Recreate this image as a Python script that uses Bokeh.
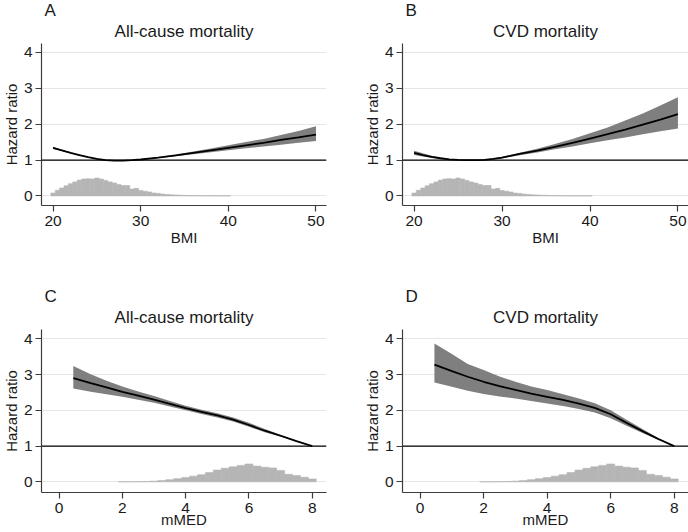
from bokeh.plotting import figure
from bokeh.layouts import column, row
from bokeh.models import Span, Title, FixedTicker, Range1d
from bokeh.embed import file_html
from bokeh.resources import INLINE

# ---------------- data ----------------
bmi_x = [20, 21, 22, 23, 24, 25, 26, 27, 28, 29, 30, 32, 34, 36, 38, 40, 42, 44, 46, 48, 50]
allcause_bmi_hr = [1.34, 1.27, 1.20, 1.14, 1.08, 1.03, 1.00, 0.985, 0.985, 0.995, 1.015, 1.07, 1.13, 1.20, 1.27, 1.34, 1.41, 1.48, 1.56, 1.63, 1.71]
allcause_bmi_lo = [1.31, 1.25, 1.19, 1.13, 1.073, 1.025, 0.996, 0.98, 0.98, 0.989, 1.007, 1.055, 1.105, 1.165, 1.22, 1.275, 1.33, 1.38, 1.43, 1.48, 1.53]
allcause_bmi_hi = [1.37, 1.29, 1.215, 1.15, 1.087, 1.035, 1.004, 0.99, 0.99, 1.001, 1.023, 1.085, 1.155, 1.24, 1.32, 1.41, 1.50, 1.59, 1.70, 1.81, 1.94]

cvd_bmi_hr = [1.20, 1.14, 1.09, 1.05, 1.02, 1.003, 0.995, 0.995, 1.005, 1.03, 1.07, 1.17, 1.26, 1.37, 1.48, 1.60, 1.72, 1.85, 1.99, 2.13, 2.28]
cvd_bmi_lo = [1.14, 1.10, 1.06, 1.03, 1.01, 0.998, 0.992, 0.99, 0.995, 1.015, 1.05, 1.135, 1.21, 1.30, 1.38, 1.47, 1.55, 1.63, 1.72, 1.80, 1.88]
cvd_bmi_hi = [1.26, 1.19, 1.12, 1.07, 1.03, 1.008, 0.998, 1.0, 1.015, 1.045, 1.09, 1.205, 1.315, 1.45, 1.59, 1.75, 1.91, 2.10, 2.30, 2.52, 2.75]

mmed_x = [0.45, 1.0, 1.5, 2.0, 2.5, 3.0, 3.5, 4.0, 4.5, 5.0, 5.5, 6.0, 6.5, 7.0, 7.5, 8.0]
allcause_mmed_hr = [2.90, 2.76, 2.64, 2.52, 2.41, 2.30, 2.18, 2.06, 1.96, 1.86, 1.74, 1.59, 1.43, 1.29, 1.14, 1.00]
allcause_mmed_lo = [2.61, 2.52, 2.45, 2.38, 2.30, 2.21, 2.11, 2.00, 1.90, 1.80, 1.69, 1.54, 1.39, 1.26, 1.12, 1.00]
allcause_mmed_hi = [3.24, 3.01, 2.83, 2.67, 2.53, 2.40, 2.26, 2.13, 2.02, 1.92, 1.80, 1.65, 1.48, 1.32, 1.16, 1.00]

cvd_mmed_hr = [3.28, 3.10, 2.94, 2.80, 2.68, 2.57, 2.47, 2.38, 2.29, 2.19, 2.07, 1.89, 1.65, 1.42, 1.20, 1.00]
cvd_mmed_lo = [2.78, 2.66, 2.55, 2.46, 2.39, 2.33, 2.26, 2.19, 2.12, 2.04, 1.94, 1.78, 1.57, 1.37, 1.17, 1.00]
cvd_mmed_hi = [3.87, 3.58, 3.30, 3.13, 2.95, 2.80, 2.67, 2.57, 2.45, 2.33, 2.20, 2.00, 1.74, 1.48, 1.23, 1.00]

# distribution histograms (bin centres and heights)
bmi_bin_centers = [20.0, 20.5, 21.0, 21.5, 22.0, 22.5, 23.0, 23.5, 24.0, 24.5, 25.0, 25.5, 26.0, 26.5,
                   27.0, 27.5, 28.0, 28.5, 29.0, 29.5, 30.0, 30.5, 31.0, 31.5, 32.0, 32.5, 33.0, 33.5,
                   34.0, 34.5, 35.0, 35.5, 36.0, 36.5, 37.0, 37.5, 38.0, 38.5, 39.0, 39.5, 40.0]
bmi_bin_heights = [0.08, 0.16, 0.22, 0.28, 0.34, 0.39, 0.44, 0.47, 0.48, 0.47, 0.50, 0.47, 0.43, 0.39,
                   0.36, 0.32, 0.29, 0.29, 0.19, 0.21, 0.15, 0.13, 0.11, 0.08, 0.07, 0.05, 0.04, 0.03,
                   0.025, 0.02, 0.015, 0.01, 0.008, 0.006, 0.005, 0.004, 0.003, 0.003, 0.002, 0.002, 0.002]
bmi_bin_width = 0.5

mmed_bin_centers = [2.0, 2.25, 2.5, 2.75, 3.0, 3.25, 3.5, 3.75, 4.0, 4.25, 4.5, 4.75, 5.0, 5.25, 5.5,
                    5.75, 6.0, 6.25, 6.5, 6.75, 7.0, 7.25, 7.5, 7.75, 8.0]
mmed_bin_heights = [0.003, 0.004, 0.006, 0.01, 0.02, 0.035, 0.06, 0.09, 0.12, 0.16, 0.20, 0.26, 0.33, 0.38, 0.42,
                    0.46, 0.50, 0.44, 0.41, 0.39, 0.32, 0.21, 0.18, 0.13, 0.08]
mmed_bin_width = 0.25

bmi_ticks = [20, 30, 40, 50]
mmed_ticks = [0, 2, 4, 6, 8]
hr_ticks = [0, 1, 2, 3, 4]

panel_letters = ["A", "B", "C", "D"]
panel_titles = ["All-cause mortality", "CVD mortality", "All-cause mortality", "CVD mortality"]
x_labels = ["BMI", "BMI", "mMED", "mMED"]
y_label = "Hazard ratio"

# ---------------- style ----------------
FONT = "Liberation Sans"
BAND = "#7f7f7f"
HIST = "#b5b5b5"
GRID = "#e6e6e6"
AXIS = "#3c3c3c"
TEXT = "#1a1a1a"


def make_panel(letter, title, xlabel, x, hr, lo, hi, bins, heights, bw, xticks,
               xr, yr, width, height, bl, br, bt, bb, bottom_row):
    p = figure(width=width, height=height, output_backend="svg", toolbar_location=None,
               x_range=Range1d(*xr), y_range=Range1d(*yr),
               min_border_left=bl, min_border_right=br, min_border_top=bt, min_border_bottom=bb)
    p.outline_line_color = None
    p.background_fill_color = "white"
    p.border_fill_color = "white"
    p.xgrid.grid_line_color = None
    p.ygrid.grid_line_color = GRID
    p.ygrid.grid_line_width = 1.2
    p.yaxis.ticker = FixedTicker(ticks=hr_ticks)
    p.xaxis.ticker = FixedTicker(ticks=xticks)
    for ax in (p.xaxis[0], p.yaxis[0]):
        ax.axis_line_color = AXIS
        ax.axis_line_width = 1.2
        ax.major_tick_line_color = AXIS
        ax.major_tick_line_width = 1.2
        ax.major_tick_out = 6
        ax.major_tick_in = 0
        ax.minor_tick_line_color = None
        ax.major_label_text_font = FONT
        ax.major_label_text_font_size = "15.5px"
        ax.major_label_text_color = TEXT
        ax.axis_label_text_font = FONT
        ax.axis_label_text_font_size = "15px"
        ax.axis_label_text_font_style = "normal"
        ax.axis_label_text_color = TEXT
    p.xaxis.major_label_standoff = 4
    p.xaxis.axis_label_standoff = -5 if bottom_row else 0
    p.yaxis.major_label_standoff = 3
    p.xaxis.axis_label = xlabel

    # y-axis title as a rotated side title (keeps the left border compact)
    p.add_layout(Title(text=y_label, align="center", text_font=FONT, text_font_size="15px",
                       text_font_style="normal", text_color=TEXT, standoff=1), "left")

    left = [c - bw / 2 for c in bins]
    right = [c + bw / 2 for c in bins]
    p.quad(left=left, right=right, bottom=0, top=heights, fill_color=HIST,
           line_color=HIST, line_width=0.6)
    p.varea(x=x, y1=lo, y2=hi, fill_color=BAND, fill_alpha=1.0)
    p.line(x=x, y=hr, line_color="black", line_width=1.8)
    p.add_layout(Span(location=1, dimension="width", line_color="black", line_width=1.3))

    # panel title (nearest to frame), then panel letter above it
    p.add_layout(Title(text=title, align="center", vertical_align="top", text_font=FONT,
                       text_font_size="17px", text_font_style="normal", text_color=TEXT,
                       standoff=1), "above")
    p.add_layout(Title(text=letter, align="left", vertical_align="top", offset=3, text_font=FONT,
                       text_font_size="17px", text_font_style="normal", text_color=TEXT,
                       standoff=0), "above")
    return p


TOP_YR = (-0.268, 4.251)
BOT_YR = (-0.298, 4.262)
BMI_XR = (18.68, 51.2)
MMED_XR = (-0.555, 8.45)

pA = make_panel(panel_letters[0], panel_titles[0], x_labels[0], bmi_x, allcause_bmi_hr, allcause_bmi_lo,
                allcause_bmi_hi, bmi_bin_centers, bmi_bin_heights, bmi_bin_width, bmi_ticks,
                BMI_XR, TOP_YR, 361, 286, 39, 35, 43, 81, False)
pB = make_panel(panel_letters[1], panel_titles[1], x_labels[1], bmi_x, cvd_bmi_hr, cvd_bmi_lo,
                cvd_bmi_hi, bmi_bin_centers, bmi_bin_heights, bmi_bin_width, bmi_ticks,
                BMI_XR, TOP_YR, 327, 286, 40, 0, 43, 81, False)
pC = make_panel(panel_letters[2], panel_titles[2], x_labels[2], mmed_x, allcause_mmed_hr, allcause_mmed_lo,
                allcause_mmed_hi, mmed_bin_centers, mmed_bin_heights, mmed_bin_width, mmed_ticks,
                MMED_XR, BOT_YR, 361, 246, 39, 35, 43, 40, True)
pD = make_panel(panel_letters[3], panel_titles[3], x_labels[3], mmed_x, cvd_mmed_hr, cvd_mmed_lo,
                cvd_mmed_hi, mmed_bin_centers, mmed_bin_heights, mmed_bin_width, mmed_ticks,
                MMED_XR, BOT_YR, 327, 246, 40, 0, 43, 40, True)

layout = column(row(pA, pB), row(pC, pD))

open("out.html", "w").write(file_html(layout, INLINE))
